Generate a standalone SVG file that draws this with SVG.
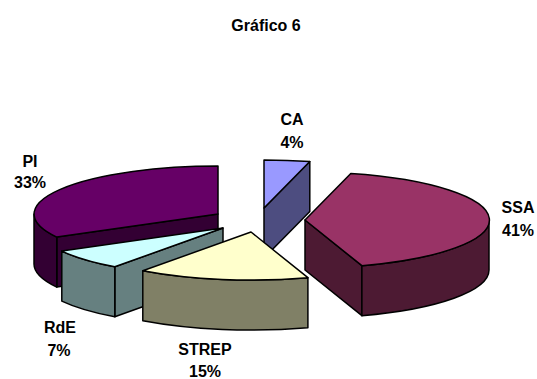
<svg xmlns="http://www.w3.org/2000/svg" width="537" height="379" viewBox="0 0 537 379">
<style>
  .lbl{font-family:"Liberation Sans",Arial,sans-serif;font-weight:bold;font-size:16px;fill:#000;text-anchor:middle}
  .e{stroke:#000;stroke-width:1.5;stroke-linejoin:round}
</style>
<rect width="537" height="379" fill="#fff"/>
<text class="lbl" x="266" y="31">Gráfico 6</text>
<g id="slice-PI">
  <path class="e" fill="#330033" d="M218,214 L56.8,237.1 L56.8,287.1 L218,264 Z"/>
  <path class="e" fill="#330033" d="M56.8,237.1 A184,48 0 0 1 34,214 L34,264 A184,48 0 0 0 56.8,287.1 Z"/>
  <path class="e" fill="#660066" d="M218,214 L56.8,237.1 A184,48 0 0 1 218,166 Z"/>
</g>
<g id="slice-CA">
  <path class="e" fill="#4d4d80" d="M264,208 L309.8,161.5 L309.8,211.5 L264,258 Z"/>
  <path class="e" fill="#9999ff" d="M264,208 L264,160 A184,48 0 0 1 309.8,161.5 Z"/>
</g>
<g id="slice-SSA">
  <path class="e" fill="#4d1a33" d="M305,220 L361.9,265.7 L361.9,315.7 L305,270 Z"/>
  <path class="e" fill="#4d1a33" d="M489,220 A184,48 0 0 1 361.9,265.7 L361.9,315.7 A184,48 0 0 0 489,270 Z"/>
  <path class="e" fill="#993366" d="M305,220 L350.8,173.5 A184,48 0 0 1 361.9,265.7 Z"/>
</g>
<g id="slice-RdE">
  <path class="e" fill="#668080" d="M223,228 L114.8,266.8 L114.8,316.8 L223,278 Z"/>
  <path class="e" fill="#668080" d="M114.8,266.8 A184,48 0 0 1 61.8,251.1 L61.8,301.1 A184,48 0 0 0 114.8,316.8 Z"/>
  <path class="e" fill="#ccffff" d="M223,228 L114.8,266.8 A184,48 0 0 1 61.8,251.1 Z"/>
</g>
<g id="slice-STREP">
  <path class="e" fill="#808066" d="M307.9,277.7 A184,48 0 0 1 142.8,270.8 L142.8,320.8 A184,48 0 0 0 307.9,327.7 Z"/>
  <path class="e" fill="#ffffcc" d="M251,232 L307.9,277.7 A184,48 0 0 1 142.8,270.8 Z"/>
</g>
<g id="connectors"></g>
<g id="labels">
  <text class="lbl" x="292" y="125">CA</text>
  <text class="lbl" x="292" y="148">4%</text>
  <text class="lbl" x="518" y="213">SSA</text>
  <text class="lbl" x="518" y="236">41%</text>
  <text class="lbl" x="30" y="167">PI</text>
  <text class="lbl" x="30" y="188">33%</text>
  <text class="lbl" x="60" y="333">RdE</text>
  <text class="lbl" x="59" y="356">7%</text>
  <text class="lbl" x="205" y="355">STREP</text>
  <text class="lbl" x="205" y="377">15%</text>
</g>
</svg>
